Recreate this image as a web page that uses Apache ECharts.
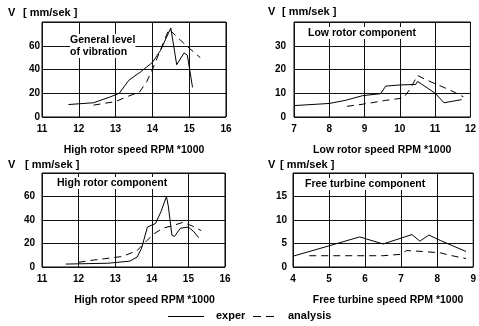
<!DOCTYPE html>
<html>
<head>
<meta charset="utf-8">
<script src="https://cdn.jsdelivr.net/npm/echarts@6/dist/echarts.min.js"></script>
<style>
html,body{margin:0;padding:0;background:#fff;}
#c{width:479px;height:326px;}
</style>
</head>
<body>
<div id="c"></div>
<script>
// ---- Data ----
const p1Exper = [[11.72,10.5],[12.4,12],[12.86,17],[13.1,20],[13.36,31],[13.68,38],[14.0,46],[14.22,56],[14.5,75],[14.66,44],[14.86,54],[14.95,52],[15.09,25]];
const p1Analysis = [[12.4,10],[13.0,13],[13.3,17],[13.65,21],[13.85,30],[14.0,40],[14.2,55],[14.45,74],[14.75,65],[15.0,58],[15.3,50]];

const p2Exper = [[7,4.8],[8,5.7],[8.45,7],[8.95,9],[9.45,9.8],[9.6,13],[10.0,13.5],[10.45,13.7],[10.5,15],[11.0,10],[11.25,6],[11.75,7.3]];
const p2Analysis = [[8.5,4.5],[9.0,5.5],[9.6,7],[10.1,8],[10.3,12],[10.5,17.5],[10.7,16],[11.0,14],[11.4,11.5],[11.8,8.5]];

const p3Exper = [[11.65,2.5],[12.8,3.2],[13.4,5],[13.6,8.5],[13.72,16],[13.88,34],[14.1,37],[14.25,47],[14.4,60],[14.45,52],[14.55,27],[14.62,26],[14.78,33],[15.0,34],[15.15,30],[15.28,25]];
const p3Analysis = [[12.0,4],[12.3,5.5],[12.7,7],[13.2,9],[13.6,14],[13.85,22],[14.05,28],[14.3,33],[14.55,35],[14.85,38],[15.1,35],[15.35,31]];

const p4Exper = [[4,2.3],[5,4.5],[5.85,6.4],[6.5,4.9],[7.3,6.9],[7.52,5.5],[7.77,6.8],[8.1,5.6],[8.8,3.3]];
const p4Analysis = [[4.45,2.4],[5.5,2.4],[6.5,2.4],[7.0,2.7],[7.15,3.5],[7.6,3.3],[8.1,3.0],[8.35,2.5],[8.8,1.8]];

const xRanges = [[11,16],[7,12],[11,16],[4,9]];
const yRanges = [[0,80,20],[0,40,10],[0,80,20],[0,20,5]];
const xNames = ['High rotor speed RPM *1000','Low rotor speed RPM *1000','High rotor speed RPM *1000','Free turbine speed RPM *1000'];
const panelTitles = ['General level\nof vibration','Low rotor component','High rotor component','Free turbine component'];
const yTitleV = 'V';
const yTitleUnit = '[ mm/sek ]';
const seriesNames = ['exper','analysis'];

// ---- Layout ----
const FONT = '"Liberation Sans", Arial, sans-serif';
const grids = [
  {left:42, top:22, width:184, height:95},
  {left:294, top:22, width:182, height:95},
  {left:42, top:173, width:183, height:94},
  {left:293, top:173, width:183, height:94}
];
const yLabelMargins = [2, 8, 7, 6];
const nameOffsets = [0, 0, 22, 10];
const titlePos = [[70,34],[308,27],[57,177],[305,178]];
const vPos = [[8,7],[268,6],[8,159],[268,159]];
const unitPos = [[23,7],[282,6],[25,159],[280,159]];

const xAxes = [], yAxes = [], series = [], graphics = [];
const expData = [p1Exper,p2Exper,p3Exper,p4Exper];
const anaData = [p1Analysis,p2Analysis,p3Analysis,p4Analysis];

for (let i=0;i<4;i++){
  xAxes.push({
    type:'value', gridIndex:i, min:xRanges[i][0], max:xRanges[i][1], interval:1,
    axisLine:{show:false}, axisTick:{show:false},
    splitLine:{show:true, lineStyle:{color:'#111', width:1}},
    axisLabel:{color:'#000', fontFamily:FONT, fontWeight:'bold', fontSize:10, margin:7},
    name:xNames[i], nameLocation:'middle', nameGap:28,
    nameTextStyle:{color:'#000', fontFamily:FONT, fontWeight:'bold', fontSize:10.5, padding:[0,0,0,nameOffsets[i]]}
  });
  yAxes.push({
    type:'value', gridIndex:i, min:yRanges[i][0], max:yRanges[i][1], interval:yRanges[i][2],
    axisLine:{show:false}, axisTick:{show:false},
    splitLine:{show:true, lineStyle:{color:'#111', width:1}},
    axisLabel:{color:'#000', fontFamily:FONT, fontWeight:'bold', fontSize:10, margin:yLabelMargins[i], showMaxLabel:false}
  });
  series.push({
    name:seriesNames[0], type:'line', xAxisIndex:i, yAxisIndex:i, data:expData[i],
    symbol:'none', lineStyle:{color:'#000', width:1}, itemStyle:{color:'#000'}, silent:true, animation:false
  });
  series.push({
    name:seriesNames[1], type:'line', xAxisIndex:i, yAxisIndex:i, data:anaData[i],
    symbol:'none', lineStyle:{color:'#000', width:1, type:[7,5]}, itemStyle:{color:'#000'}, silent:true, animation:false
  });
  graphics.push({type:'text', left:titlePos[i][0], top:titlePos[i][1], z:100,
    style:{text:panelTitles[i], fill:'#000', font:'bold 10.5px ' + FONT, lineHeight:12, backgroundColor:'#fff'}});
  graphics.push({type:'text', left:vPos[i][0], top:vPos[i][1],
    style:{text:yTitleV, fill:'#000', font:'bold 11px ' + FONT}});
  graphics.push({type:'text', left:unitPos[i][0], top:unitPos[i][1],
    style:{text:yTitleUnit, fill:'#000', font:'bold 11px ' + FONT}});
}

// Legend (drawn as graphic key)
graphics.push({type:'line', shape:{x1:168, y1:316.5, x2:204, y2:316.5}, style:{stroke:'#000', lineWidth:1}});
graphics.push({type:'text', left:216, top:310, style:{text:seriesNames[0], fill:'#000', font:'bold 11px ' + FONT}});
graphics.push({type:'line', shape:{x1:253, y1:316.5, x2:275, y2:316.5}, style:{stroke:'#000', lineWidth:1, lineDash:[8,5]}});
graphics.push({type:'text', left:288, top:310, style:{text:seriesNames[1], fill:'#000', font:'bold 11px ' + FONT}});

const gridOpts = grids.map(g => Object.assign({show:true, borderColor:'#000', borderWidth:1, backgroundColor:'#fff', containLabel:false}, g));

const chart = echarts.init(document.getElementById('c'), null, {renderer:'canvas'});
chart.setOption({
  animation:false,
  backgroundColor:'#fff',
  grid: gridOpts,
  xAxis: xAxes,
  yAxis: yAxes,
  series: series,
  graphic: graphics
});
</script>
</body>
</html>
